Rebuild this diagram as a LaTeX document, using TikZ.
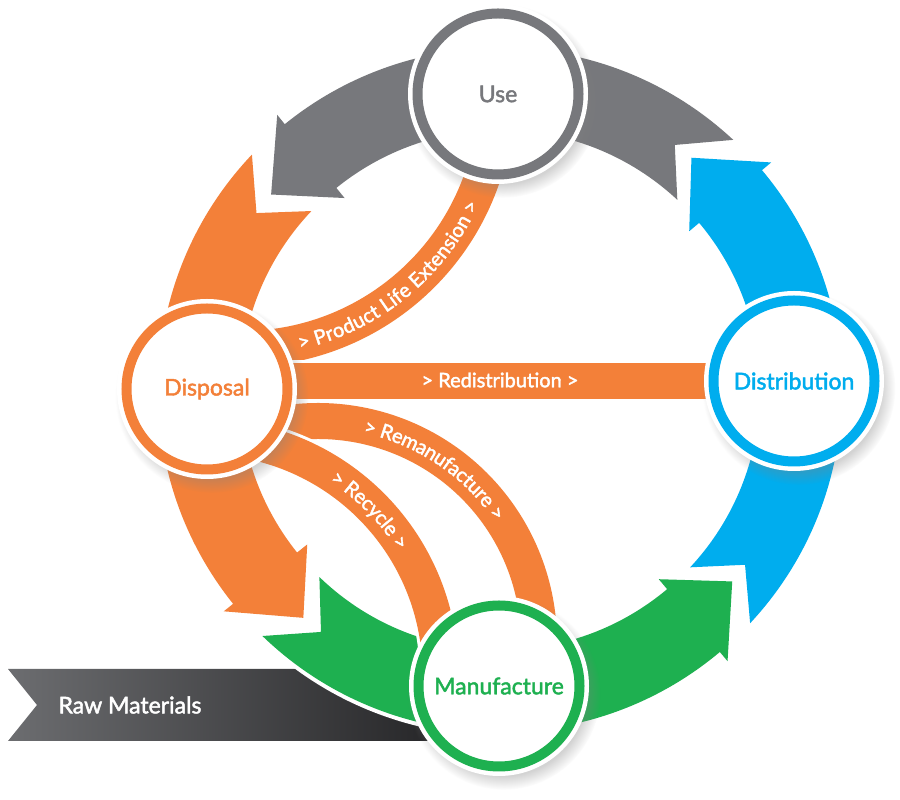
\documentclass[tikz,border=0pt]{standalone}
\usepackage{fontspec}
\setmainfont{Lato}
\newfontfamily\latomid{Lato}[FakeBold=2]
\usetikzlibrary{decorations.text,shadows}

\definecolor{cyclegray}{RGB}{119,120,124}
\definecolor{cycleorange}{RGB}{243,128,57}
\definecolor{cyclegreen}{RGB}{30,176,80}
\definecolor{cycleblue}{RGB}{0,173,238}
\definecolor{rawdark}{RGB}{38,38,40}
\definecolor{rawlight}{RGB}{108,109,112}

\newcommand{\stagefont}{\latomid\fontsize{23}{28}\selectfont}
\newcommand{\flowfont}{\latomid\fontsize{20}{24}\selectfont}

\pgfdeclarelayer{background}
\pgfsetlayers{background,main}

\tikzset{
  stage/.style={circle, minimum size=161pt, inner sep=0pt, fill=white,
    draw=#1, text=#1, line width=10pt, font=\stagefont,
    circular drop shadow={shadow xshift=4pt, shadow yshift=-6pt, shadow scale=1.2, opacity=0.35},
    preaction={draw=white, line width=19pt}},
  flowband/.style={draw=cycleorange, line width=36pt,
    preaction={draw=white, line width=42pt}},
  flowtext/.style={decorate, decoration={text along path, text={|\flowfont|#1},
    text color=white, text align=center, raise=-7pt}}
}

\begin{document}
\begin{tikzpicture}[x=1pt, y=1pt]
    \useasboundingbox (0,0) rectangle (900,800);

    % Centre of the big ring
    \coordinate (ring) at (500,410);

    % Stages
    \node[stage=cyclegray] (use) at (498,706) {Use};
    \node[stage=cycleorange] (disposal) at (207,411) {Disposal};
    \node[stage=cycleblue] (distribution) at (794,419) {Distribution};
    \node[stage=cyclegreen] (manufacture) at (499,114) {Manufacture};

    % Centres of the curved flows
    \coordinate (pleC) at (242,705);
    \coordinate (remC) at (318,158);
    \coordinate (recC) at (203.5,126.5);

    \begin{pgfonlayer}{background}
        % Raw materials banner
        \shade[left color=rawlight, right color=rawdark]
            (8,131) -- (440,131) -- (440,59) -- (8,59) -- (37,95) -- cycle;
        \node[anchor=west, text=white, font=\stagefont] (raw) at (55,95) {Raw Materials};

        % Ring arrows (colour / tail angle / head angle)
        \begin{scope}[shift={(ring)}]
            \foreach \col/\ta/\tb in {cyclegray/47/129, cycleorange/136.5/218.7,
                                      cyclegreen/226/310, cycleblue/317/400} {
                \fill[\col, preaction={draw=white, line width=8pt, line join=round}]
                    (\ta:342) arc[start angle=\ta, end angle=\tb, radius=342]
                    -- (\tb:354) -- ({\tb+10.5}:301) -- (\tb:247) -- (\tb:260)
                    arc[start angle=\tb, end angle=\ta, radius=260]
                    -- ({\ta+7.5}:301) -- cycle;
            }
        \end{scope}

        % Flows out of disposal
        %product life extension
        \draw[flowband] ([shift={(-84:254)}]pleC) arc[start angle=-84, end angle=-14, radius=254];
        \path[flowtext={> Product Life Extension >}]
            ([shift={(-81:254)}]pleC) arc[start angle=-81, end angle=-21, radius=254];
        %redistribution
        \draw[flowband] (disposal.center |- distribution.center) -- (distribution.center);
        \node[text=white, font=\flowfont] (redi) at (500,420) {> Redistribution >};
        %remanufacture
        \draw[flowband] ([shift={(105:221)}]remC) arc[start angle=105, end angle=3, radius=221];
        \path[flowtext={> Remanufacture >}]
            ([shift={(86:221)}]remC) arc[start angle=86, end angle=26, radius=221];
        %recycle
        \draw[flowband] ([shift={(80:237)}]recC) arc[start angle=80, end angle=5, radius=237];
        \path[flowtext={> Recycle >}]
            ([shift={(70:237)}]recC) arc[start angle=70, end angle=19, radius=237];
    \end{pgfonlayer}
\end{tikzpicture}
\end{document}
